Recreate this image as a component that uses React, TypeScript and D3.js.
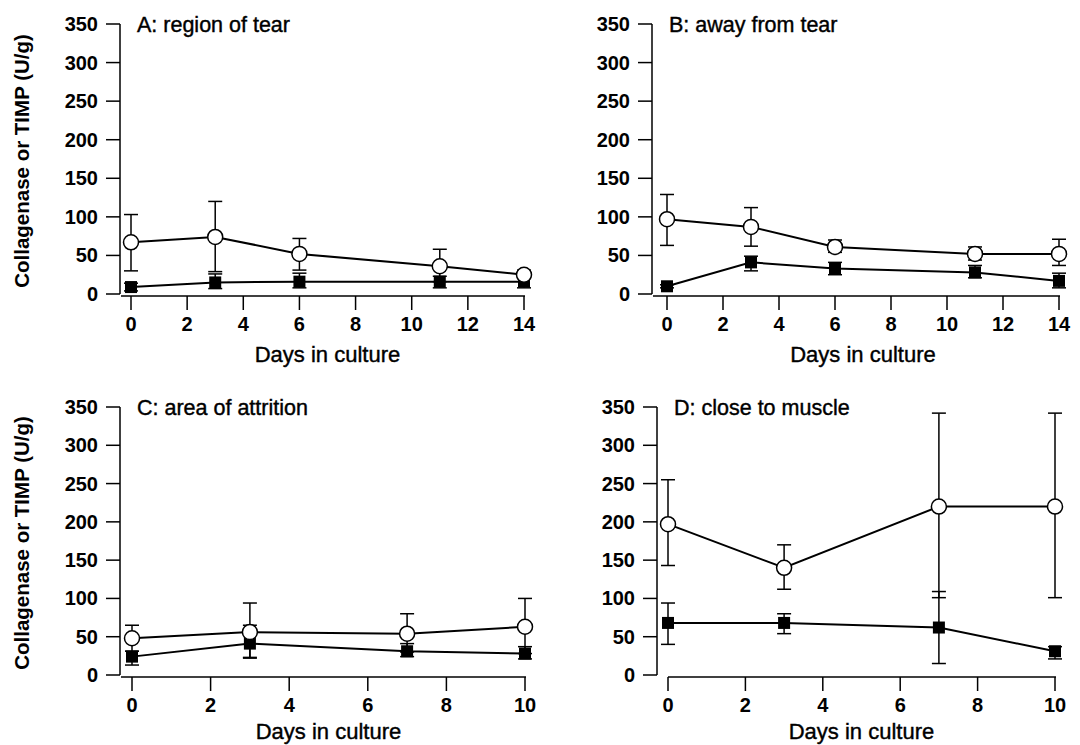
import React from "react";
import * as d3 from "d3";

// ---- Data ----
const daysAB = [0, 3, 6, 11, 14];
const daysCD = [0, 3, 7, 10];
const ticksAB = [0, 2, 4, 6, 8, 10, 12, 14];
const ticksCD = [0, 2, 4, 6, 8, 10];
const yTicks = [0, 50, 100, 150, 200, 250, 300, 350];

const panelTitles = ["A: region of tear", "B: away from tear", "C: area of attrition", "D: close to muscle"];

// open circles
const aOpen = [67, 74, 52, 36, 25];
const aOpenHi = [103, 120, 72, 58, 31];
const aOpenLo = [30, 29, 31, 16, 20];
// filled squares
const aFill = [9, 15, 16, 16, 16];
const aFillHi = [14, 26, 27, 23, 23];
const aFillLo = [4, 7, 8, 8, 8];

const bOpen = [97, 87, 61, 52, 52];
const bOpenHi = [129, 112, 70, 61, 71];
const bOpenLo = [63, 62, 54, 44, 37];
const bFill = [10, 41, 33, 28, 17];
const bFillHi = [12, 49, 41, 37, 27];
const bFillLo = [8, 30, 25, 21, 8];

const cOpen = [48, 56, 54, 63];
const cOpenHi = [65, 94, 80, 100];
const cOpenLo = [31, 22, 30, 28];
const cFill = [24, 41, 31, 28];
const cFillHi = [31, 65, 41, 37];
const cFillLo = [13, 23, 24, 21];

const dOpen = [197, 140, 220, 220];
const dOpenHi = [255, 170, 342, 342];
const dOpenLo = [143, 112, 101, 101];
const dFill = [68, 68, 62, 31];
const dFillHi = [94, 80, 109, 37];
const dFillLo = [40, 54, 15, 21];

const FONT = "'Liberation Sans', Arial, Helvetica, sans-serif";

type Series = { v: number[]; hi: number[]; lo: number[] };
type PanelDef = {
  title: string;
  days: number[];
  xTicks: number[];
  xMax: number;
  open: Series;
  fill: Series;
  yAxisX: number;
  y0: number;
  yTop: number;
  x0: number;
  x1: number;
  showYLabel: boolean;
  axisFromZero: boolean;
  xLabelDy: number;
};

const panels: PanelDef[] = [
  {
    title: panelTitles[0], days: daysAB, xTicks: ticksAB, xMax: 14,
    open: { v: aOpen, hi: aOpenHi, lo: aOpenLo }, fill: { v: aFill, hi: aFillHi, lo: aFillLo },
    yAxisX: 120, y0: 294, yTop: 24, x0: 131, x1: 524, showYLabel: true, axisFromZero: false, xLabelDy: 68,
  },
  {
    title: panelTitles[1], days: daysAB, xTicks: ticksAB, xMax: 14,
    open: { v: bOpen, hi: bOpenHi, lo: bOpenLo }, fill: { v: bFill, hi: bFillHi, lo: bFillLo },
    yAxisX: 652, y0: 294, yTop: 24, x0: 667, x1: 1059, showYLabel: false, axisFromZero: false, xLabelDy: 68,
  },
  {
    title: panelTitles[2], days: daysCD, xTicks: ticksCD, xMax: 10,
    open: { v: cOpen, hi: cOpenHi, lo: cOpenLo }, fill: { v: cFill, hi: cFillHi, lo: cFillLo },
    yAxisX: 120, y0: 675, yTop: 407, x0: 132, x1: 525, showYLabel: true, axisFromZero: false, xLabelDy: 64,
  },
  {
    title: panelTitles[3], days: daysCD, xTicks: ticksCD, xMax: 10,
    open: { v: dOpen, hi: dOpenHi, lo: dOpenLo }, fill: { v: dFill, hi: dFillHi, lo: dFillLo },
    yAxisX: 657, y0: 675, yTop: 407, x0: 668, x1: 1055, showYLabel: false, axisFromZero: true, xLabelDy: 64,
  },
];

function ErrorBars({ days, s, x, y }: { days: number[]; s: Series; x: any; y: any }) {
  const cap = 7;
  return (
    <g stroke="#000" strokeWidth={1.5}>
      {days.map((d, i) => {
        const cx = x(d);
        return (
          <g key={i}>
            <line x1={cx} x2={cx} y1={y(s.lo[i])} y2={y(s.hi[i])} />
            <line x1={cx - cap} x2={cx + cap} y1={y(s.hi[i])} y2={y(s.hi[i])} />
            <line x1={cx - cap} x2={cx + cap} y1={y(s.lo[i])} y2={y(s.lo[i])} />
          </g>
        );
      })}
    </g>
  );
}

function Panel({ p }: { p: PanelDef }) {
  const x = d3.scaleLinear().domain([0, p.xMax]).range([p.x0, p.x1]);
  const y = d3.scaleLinear().domain([0, 350]).range([p.y0, p.yTop]);
  const line = d3.line<number>().x((_, i) => x(p.days[i])).y((v) => y(v));
  const xAxisY = p.y0 + 2;
  const xStart = p.axisFromZero ? x(0) : p.yAxisX + 1;
  return (
    <g>
      {/* y axis */}
      <line x1={p.yAxisX} x2={p.yAxisX} y1={y(350)} y2={y(0)} stroke="#000" strokeWidth={1.5} />
      {yTicks.map((t) => (
        <g key={t}>
          <line x1={p.yAxisX - 14} x2={p.yAxisX} y1={y(t)} y2={y(t)} stroke="#000" strokeWidth={1.5} />
          <text x={p.yAxisX - 22} y={y(t) + 7} textAnchor="end" fontSize={20} fontWeight="bold" fontFamily={FONT}>
            {t}
          </text>
        </g>
      ))}
      {/* x axis */}
      <line x1={xStart} x2={x(p.xMax) + 1} y1={xAxisY} y2={xAxisY} stroke="#000" strokeWidth={1.5} />
      {p.xTicks.map((t) => (
        <g key={t}>
          <line x1={x(t)} x2={x(t)} y1={xAxisY} y2={xAxisY + 14} stroke="#000" strokeWidth={1.5} />
          <text x={x(t)} y={xAxisY + 35} textAnchor="middle" fontSize={20} fontWeight="bold" fontFamily={FONT}>
            {t}
          </text>
        </g>
      ))}
      <text
        x={(x(0) + x(p.xMax)) / 2}
        y={p.y0 + p.xLabelDy}
        textAnchor="middle"
        fontSize={22}
        fontFamily={FONT}
        stroke="#000"
        strokeWidth={0.4}
      >
        Days in culture
      </text>
      {p.showYLabel && (
        <text
          transform={`translate(${29},${(p.y0 + p.yTop) / 2 + 2}) rotate(-90)`}
          textAnchor="middle"
          fontSize={20.5}
          fontWeight="bold"
          fontFamily={FONT}
        >
          Collagenase or TIMP (U/g)
        </text>
      )}
      <text x={p.yAxisX + 17} y={p.yTop + 8} fontSize={21.5} fontFamily={FONT} stroke="#000" strokeWidth={0.4}>
        {p.title}
      </text>
      {/* series */}
      <path d={line(p.open.v) || ""} fill="none" stroke="#000" strokeWidth={2} />
      <path d={line(p.fill.v) || ""} fill="none" stroke="#000" strokeWidth={2} />
      <ErrorBars days={p.days} s={p.open} x={x} y={y} />
      <ErrorBars days={p.days} s={p.fill} x={x} y={y} />
      {p.days.map((d, i) => (
        <rect key={"s" + i} x={x(d) - 6} y={y(p.fill.v[i]) - 6} width={12} height={12} fill="#000" />
      ))}
      {p.days.map((d, i) => (
        <circle key={"c" + i} cx={x(d)} cy={y(p.open.v[i])} r={7.5} fill="#fff" stroke="#000" strokeWidth={1.5} />
      ))}
    </g>
  );
}

export default function App() {
  return (
    <svg
      width={1080}
      height={745}
      viewBox="0 0 1080 745"
      style={{ position: "absolute", left: 0, top: 0, background: "#fff" }}
    >
      <rect width={1080} height={745} fill="#fff" />
      {panels.map((p, i) => (
        <Panel key={i} p={p} />
      ))}
    </svg>
  );
}
